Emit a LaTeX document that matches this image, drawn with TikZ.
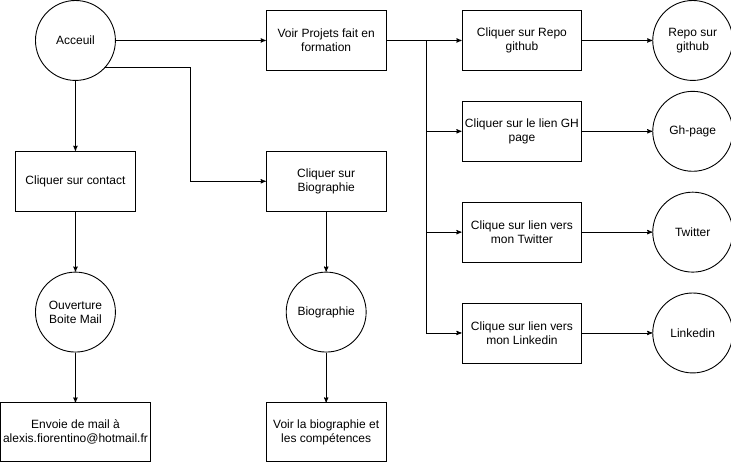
\documentclass[tikz,border=0pt]{standalone}
\usepackage{fontspec}
\setmainfont{Liberation Sans}
\usetikzlibrary{arrows,positioning}
\tikzset{
    >=stealth',
    rond/.style={
           circle,
           draw=black, line width=0.9pt,
           minimum size=80pt,
           inner sep=0pt,
           align=center,
           font=\fontsize{12}{14}\selectfont},
    boite/.style={
           rectangle,
           draw=black, line width=0.9pt,
           minimum width=120pt,
           minimum height=60pt,
           inner sep=1pt,
           align=center,
           font=\fontsize{12}{14}\selectfont},
    fleche/.style={
           -{stealth'[scale=1.2]},
           line width=0.9pt}
}
\begin{document}
\begin{tikzpicture}[node distance=40pt, auto,]
        \useasboundingbox (-0.5pt,0.5pt) rectangle (731pt,-462pt);
        \node[rond] (acc) at (75pt,-40pt) {Acceuil};
        \node[boite, right=150pt of acc] (projets) {Voir Projets fait en\\formation};
        \node[boite, right=75pt of projets] (repo) {Cliquer sur Repo\\github};
        \node[rond, right=70pt of repo] (repogh) {Repo sur\\github};
        \node[boite, below=30pt of repo] (gh) {Cliquer sur le lien GH\\page};
        \node[rond, right=70pt of gh] (ghpage) {Gh-page};
        \node[boite, below=of gh] (twit) {Clique sur lien vers\\mon Twitter};
        \node[rond, right=70pt of twit] (twitter) {Twitter};
        \node[boite, below=of twit] (lnk) {Clique sur lien vers\\mon Linkedin};
        \node[rond, right=70pt of lnk] (linkedin) {Linkedin};

        \node[boite, below=70pt of acc] (contact) {Cliquer sur contact};
        \node[rond, below=60pt of contact] (boitemail) {Ouverture\\Boite Mail};
        \node[boite, minimum width=150pt, minimum height=59pt, below=50pt of boitemail] (envoi) {Envoie de mail à\\alexis.fiorentino@hotmail.fr};

        \node[boite, below=80pt of projets] (bio) {Cliquer sur\\Biographie};
        \node[rond, below=60pt of bio] (biographie) {Biographie};
        \node[boite, minimum height=59pt, below=50pt of biographie] (voirbio) {Voir la biographie et\\les compétences};

        \coordinate[left=75pt of bio.west] (coude);
        \coordinate[right=40pt of projets.east] (branche);

        \draw[fleche] (acc) -- (projets);
        \draw[fleche] (acc) -- (contact);
        \draw[fleche] (acc.-42) -| (coude) -- (bio);
        \draw[fleche] (contact) -- (boitemail);
        \draw[fleche] (boitemail) -- (envoi);
        \draw[fleche] (bio) -- (biographie);
        \draw[fleche] (biographie) -- (voirbio);
        \draw[fleche] (projets) -- (repo);
        \draw[fleche] (branche) |- (gh);
        \draw[fleche] (branche) |- (twit);
        \draw[fleche] (branche) |- (lnk);
        \draw[fleche] (repo) -- (repogh);
        \draw[fleche] (gh) -- (ghpage);
        \draw[fleche] (twit) -- (twitter);
        \draw[fleche] (lnk) -- (linkedin);
    \end{tikzpicture}
\end{document}
